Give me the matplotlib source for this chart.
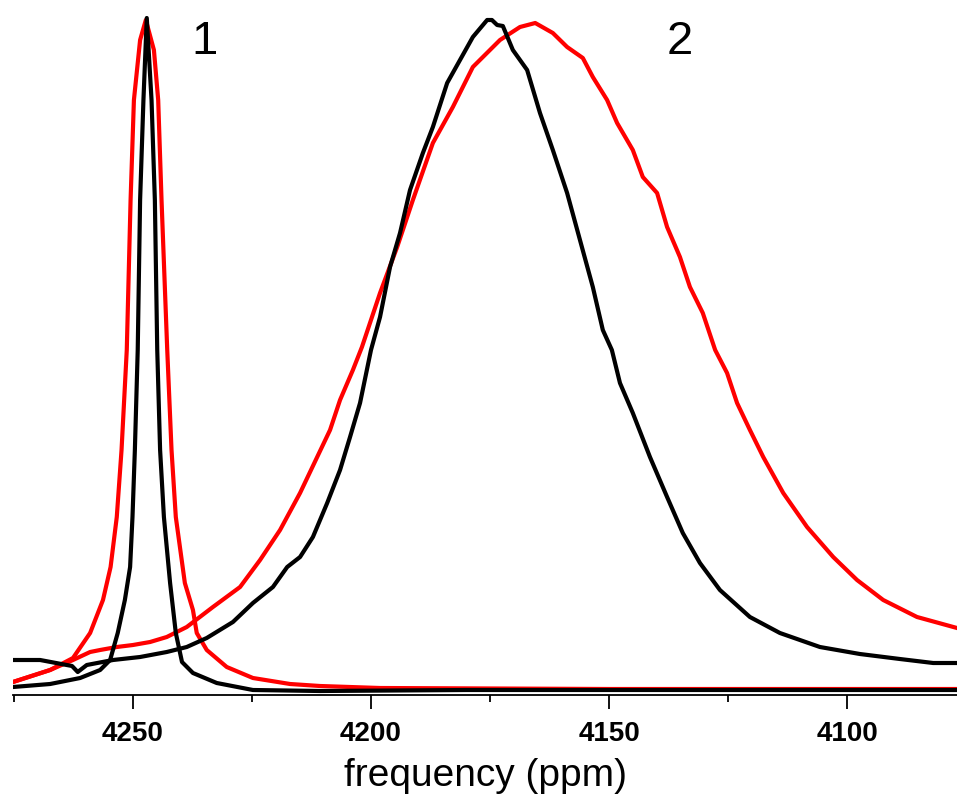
import matplotlib
matplotlib.use("Agg")
import matplotlib.pyplot as plt
from matplotlib.ticker import MultipleLocator

matplotlib.rcParams['font.family'] = 'Liberation Sans'

# spectrum 1 (narrow), black trace
ppm_b1 = [4275.2, 4267.4, 4261.1, 4256.9, 4254.8, 4253.2, 4251.7, 4250.6, 4250.1, 4249.6,
          4249.0, 4248.5, 4247.8, 4247.1, 4246.1, 4245.4, 4244.9, 4244.3, 4243.5, 4242.2,
          4241.0, 4239.7, 4237.4, 4232.4, 4224.8, 4210.7, 4180.0, 4140.0, 4100.0, 4076.9]
int_b1 = [8, 11, 17, 25, 35, 62, 95, 128, 178, 245,
          345, 495, 595, 677, 595, 495, 345, 245, 178, 112,
          62, 33, 22, 12, 5, 4, 5, 5, 5, 5]

# spectrum 1 (narrow), red trace
ppm_r1 = [4275.2, 4267.4, 4262.6, 4259.0, 4256.3, 4254.7, 4253.4, 4252.4, 4251.3, 4250.5,
          4249.8, 4248.5, 4247.3, 4245.6, 4244.7, 4244.0, 4242.8, 4241.9, 4241.0, 4239.1,
          4237.4, 4236.6, 4234.5, 4230.3, 4224.8, 4217.0, 4210.7, 4198.1, 4150.0, 4076.9]
int_r1 = [13, 25, 37, 62, 95, 128, 178, 245, 345, 495,
          595, 655, 675, 645, 595, 495, 345, 245, 178, 112,
          85, 62, 45, 28, 17, 11, 9, 7, 6, 6]

# spectrum 2 (broad), black trace
ppm_b2 = [4275.2, 4269.5, 4262.8, 4261.6, 4259.7, 4254.2, 4248.5, 4242.9, 4238.7, 4234.5,
          4229.0, 4224.8, 4220.6, 4217.6, 4214.9, 4212.2, 4209.2, 4206.5, 4204.4, 4202.3,
          4200.0, 4198.1, 4196.0, 4193.9, 4191.8, 4189.1, 4187.0, 4184.0, 4181.3, 4178.6,
          4175.6, 4174.6, 4173.5, 4172.3, 4170.2, 4167.2, 4164.5, 4161.8, 4158.8, 4156.1,
          4153.4, 4151.3, 4149.4, 4147.7, 4145.0, 4141.4, 4137.8, 4134.5, 4130.9, 4126.7,
          4120.4, 4114.1, 4105.7, 4097.3, 4088.9, 4081.9, 4076.9]
int_b2 = [35, 35, 29, 23, 30, 35, 38, 43, 48, 57,
          73, 92, 108, 128, 138, 158, 192, 225, 258, 292,
          345, 378, 428, 462, 505, 542, 568, 612, 635, 658,
          675, 675, 670, 669, 645, 625, 582, 545, 502, 455,
          408, 365, 345, 312, 282, 238, 198, 162, 132, 105,
          78, 62, 48, 41, 36, 32, 32]

# spectrum 2 (broad), red trace
ppm_r2 = [4275.2, 4267.4, 4262.6, 4259.0, 4256.9, 4253.4, 4250.0, 4246.4, 4242.9, 4238.7,
          4233.2, 4227.5, 4223.3, 4219.1, 4214.9, 4211.3, 4208.6, 4206.5, 4203.8, 4201.9,
          4198.1, 4194.5, 4191.2, 4187.0, 4182.8, 4178.6, 4172.9, 4168.7, 4165.5, 4161.8,
          4158.8, 4155.5, 4153.4, 4150.4, 4148.3, 4145.0, 4142.9, 4139.9, 4137.8, 4135.1,
          4133.0, 4130.3, 4127.7, 4125.2, 4123.1, 4120.4, 4117.6, 4113.4, 4108.4, 4102.9,
          4097.9, 4092.4, 4085.3, 4076.9]
int_r2 = [13, 25, 35, 43, 45, 48, 50, 53, 58, 68,
          88, 108, 135, 165, 202, 238, 265, 295, 325, 348,
          402, 448, 495, 552, 588, 628, 655, 668, 672, 662,
          648, 637, 618, 595, 572, 545, 518, 502, 468, 438,
          408, 382, 345, 322, 292, 265, 238, 202, 168, 138,
          115, 95, 78, 67]

fig = plt.figure(figsize=(9.57, 8.02), dpi=100)
ax = fig.add_axes([13 / 957, 107 / 802, 944 / 957, 695 / 802])

lw = 3.0
ax.plot(ppm_r1, int_r1, color='#ff0000', linewidth=lw)
ax.plot(ppm_r2, int_r2, color='#ff0000', linewidth=lw)
ax.plot(ppm_b1, int_b1, color='black', linewidth=lw)
ax.plot(ppm_b2, int_b2, color='black', linewidth=lw)

ax.text(4234.9, 653, '1', fontsize=34, ha='center', va='center')
ax.text(4135.1, 653, '2', fontsize=34, ha='center', va='center')

ax.set_xlim(4275.2, 4076.9)
ax.set_ylim(0, 695)
ax.set_yticks([])
for s in ['top', 'left', 'right']:
    ax.spines[s].set_visible(False)
ax.spines['bottom'].set_linewidth(1.3)

ax.xaxis.set_major_locator(MultipleLocator(50))
ax.xaxis.set_minor_locator(MultipleLocator(25))
ax.tick_params(axis='x', which='major', direction='out', length=10, width=1.3,
               labelsize=20, pad=9)
ax.tick_params(axis='x', which='minor', direction='out', length=5, width=1.3)
for lab in ax.get_xticklabels():
    lab.set_fontweight('bold')

ax.set_xlabel('frequency (ppm)', fontsize=28, labelpad=8)

fig.savefig('out.png', dpi=100)
